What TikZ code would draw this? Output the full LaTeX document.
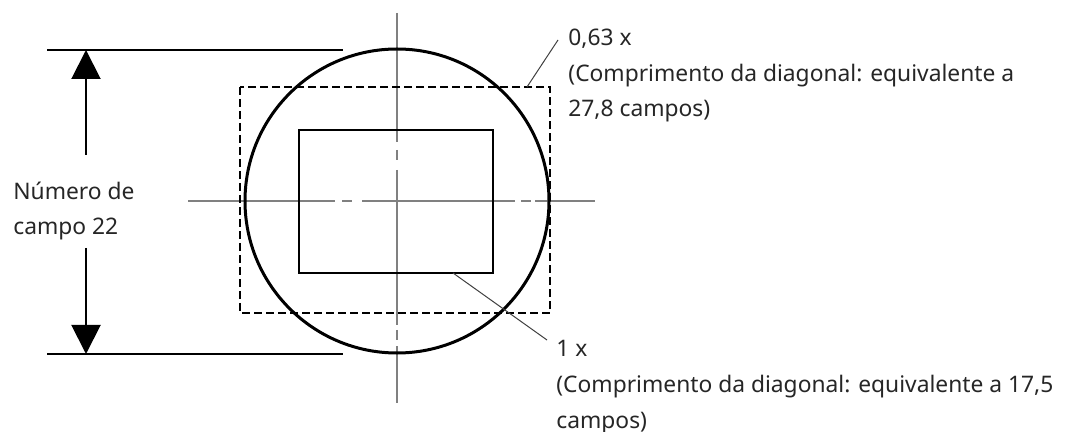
\documentclass[tikz,border=0pt]{standalone}
\usepackage{fontspec}
\setmainfont{Noto Sans}
\usetikzlibrary{arrows.meta}
\tikzset{
  axisline/.style={draw=black!50,line width=0.75pt},
  leader/.style={draw=black!75,line width=0.5pt},
  dimline/.style={draw=black,line width=0.7pt},
  dimarrow/.style={draw=black,line width=1pt,-{Triangle[length=14.5pt,width=14.5pt]}},
  lbl/.style={inner sep=0pt,align=left,font=\fontsize{11.4pt}{17.8pt}\selectfont,text=black!85}
}
\begin{document}
\begin{tikzpicture}[x=0.5pt,y=-0.5pt]
\useasboundingbox (0,0) rectangle (1080,432);
% centre lines
\foreach \a/\b in {13/142,150/160,170/325,330/340,346/403}
  \draw[axisline] (397,\a)--(397,\b);
\foreach \a/\b in {188/335,342/352,362/515,521/531,535/595}
  \draw[axisline] (\a,201)--(\b,201);
% field of view and frames
\draw[line width=1.5pt] (397,201) circle (152);
\draw[line width=1pt,dash pattern=on 4pt off 2pt] (240,87)coordinate(dA) rectangle (550,313);
\draw[line width=1pt] (299,130) rectangle (493,273)coordinate(rB);
% dimension
\coordinate (tL) at (47,50); \coordinate (tR) at (343,50);
\coordinate (bL) at (47,354); \coordinate (bR) at (343,354);
\draw[dimline] (tL)--(tR);
\draw[dimline] (bL)--(bR);
\coordinate (aT) at (86,155); \coordinate (aB) at (86,248);
\draw[dimarrow] (aT)--(86,50);
\draw[dimarrow] (aB)--(86,354);
\node[lbl,anchor=base west] (num) at (13,235) {Número de\\campo 22};
% labels
\node[lbl,anchor=base west] (lbl63) at (568,117) {0,63 x\\(Comprimento da diagonal: equivalente a\\27,8 campos)};
\node[lbl,anchor=base west] (lbl1) at (556,428) {1 x\\(Comprimento da diagonal: equivalente a 17,5\\campos)};
\coordinate (p63) at (527,87); \coordinate (q63) at (558,40);
\coordinate (p1) at (453,273); \coordinate (q1) at (547,340);
\draw[leader] (p63)--(q63);
\draw[leader] (p1)--(q1);
\end{tikzpicture}
\end{document}
